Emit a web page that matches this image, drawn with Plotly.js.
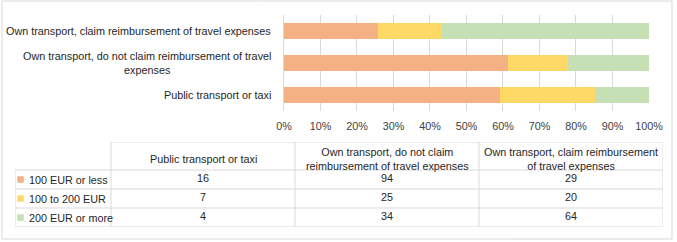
<!DOCTYPE html>
<html>
<head>
<meta charset="utf-8">
<script src="https://cdn.plot.ly/plotly-3.0.1.min.js"></script>
<style>
  html, body { margin: 0; padding: 0; background: #ffffff; }
  #chart { width: 677px; height: 242px; }
</style>
</head>
<body>
<div id="chart"></div>
<script>
// Travel arrangements and expense groups (counts of respondents)
const categories = [
  'Public transport or taxi',
  'Own transport, do not claim reimbursement of travel expenses',
  'Own transport, claim reimbursement of travel expenses'
];
// Axis labels for the bars (wrapped) and column headers for the data table
const barLabels = [
  'Public transport or taxi',
  'Own transport, do not claim reimbursement of travel<br>expenses',
  'Own transport, claim reimbursement of travel expenses'
];
const tableHeaders = [
  'Public transport or taxi',
  'Own transport, do not claim<br>reimbursement of travel expenses',
  'Own transport, claim reimbursement<br>of travel expenses'
];
const seriesNames = ['100 EUR or less', '100 to 200 EUR', '200 EUR or more'];
const upTo100 = [16, 94, 29];
const from100to200 = [7, 25, 20];
const over200 = [4, 34, 64];
const percentTicks = [0, 10, 20, 30, 40, 50, 60, 70, 80, 90, 100];

const seriesValues = [upTo100, from100to200, over200];
const seriesColors = ['#F4B183', '#FFD966', '#C5E0B4'];
const gridColor = '#d9d9d9';
const fontFamily = 'Liberation Sans, Arial, sans-serif';
const textFont = { family: fontFamily, size: 10.8, color: '#262626' };

// Table geometry in the table axes' units (1 unit = 1 px)
const colWidths = [96, 184, 184, 184];
const rowHeights = [28, 19, 19, 19];
const cumulate = arr => arr.reduce((acc, w) => acc.concat(acc[acc.length - 1] + w), [0]);
const colEdges = cumulate(colWidths);
const rowEdges = cumulate(rowHeights);
const colCenters = colWidths.map((w, j) => colEdges[j] + w / 2);
const rowCenters = rowHeights.map((h, i) => rowEdges[i] + h / 2);
const tableWidth = colEdges[colEdges.length - 1];
const tableHeight = rowEdges[rowEdges.length - 1];
const headerTextDrop = 2.5;   // header text sits slightly low in its cell

// Stacked bars, normalised to 100% per category
const bars = seriesValues.map((vals, i) => ({
  type: 'bar',
  orientation: 'h',
  name: seriesNames[i],
  y: categories,
  x: vals,
  marker: { color: seriesColors[i], line: { width: 0 } },
  hoverinfo: 'skip',
  xaxis: 'x',
  yaxis: 'y'
}));

// Data table: counts per series (rows) and category (columns)
const cellX = [], cellY = [], cellText = [];
seriesValues.forEach((vals, i) => {
  vals.forEach((v, j) => {
    cellX.push(colCenters[j + 1]);
    cellY.push(rowCenters[i + 1]);
    cellText.push(String(v));
  });
});
const cellTextTrace = {
  type: 'scatter', mode: 'text',
  x: cellX, y: cellY, text: cellText,
  textposition: 'middle center',
  textfont: textFont,
  hoverinfo: 'skip',
  cliponaxis: false,
  xaxis: 'x2', yaxis: 'y2'
};

// Legend keys in the row labels
const legendKeys = {
  type: 'scatter', mode: 'markers',
  x: seriesNames.map(() => 5.5),
  y: rowCenters.slice(1),
  marker: { symbol: 'square', size: 6.5, color: seriesColors, line: { width: 0 } },
  hoverinfo: 'skip',
  cliponaxis: false,
  xaxis: 'x2', yaxis: 'y2'
};

// Data table: column headers, centred line by line
const headerAnnotations = tableHeaders.map((h, j) => ({
  xref: 'x2', yref: 'y2',
  x: colCenters[j + 1], y: rowCenters[0] + headerTextDrop,
  xanchor: 'center', yanchor: 'middle',
  align: 'center',
  text: h, showarrow: false,
  font: textFont
}));

const rowLabelAnnotations = seriesNames.map((n, i) => ({
  xref: 'x2', yref: 'y2',
  x: 11.5, y: rowCenters[i + 1],
  xanchor: 'left', yanchor: 'middle',
  text: n, showarrow: false,
  font: textFont
}));

// Category labels beside the bars, centred when wrapped
const labelAnnotations = categories.map((c, i) => ({
  xref: 'paper', yref: 'y',
  x: 0.398, y: c,
  xanchor: 'right', yanchor: 'middle',
  align: 'center',
  text: barLabels[i],
  showarrow: false,
  font: textFont
}));

// Table rules
const rule = (x0, y0, x1, y1) => ({
  type: 'line', xref: 'x2', yref: 'y2', x0, y0, x1, y1,
  line: { color: gridColor, width: 1 }
});
const tableRules = [rule(colEdges[1], 0, tableWidth, 0)];
rowEdges.slice(1).forEach(y => tableRules.push(rule(0, y, tableWidth, y)));
tableRules.push(rule(0, rowEdges[1], 0, tableHeight));
colEdges.slice(1).forEach(x => tableRules.push(rule(x, 0, x, tableHeight)));

// Chart frame
const frame = {
  type: 'rect', xref: 'paper', yref: 'paper',
  x0: -0.0201, x1: 1.0139, y0: -0.0566, y1: 1.066,
  line: { color: gridColor, width: 1 },
  fillcolor: 'rgba(0,0,0,0)'
};

const layout = {
  width: 677,
  height: 242,
  margin: { l: 15, r: 14, t: 15, b: 15 },
  paper_bgcolor: '#ffffff',
  plot_bgcolor: '#ffffff',
  barmode: 'stack',
  barnorm: 'percent',
  bargap: 0.5,
  showlegend: false,
  xaxis: {
    domain: [0.4151, 0.9784],
    anchor: 'y',
    range: [0, 100],
    tickvals: percentTicks,
    ticktext: percentTicks.map(t => t + '%'),
    showgrid: true,
    gridcolor: gridColor,
    gridwidth: 1,
    zeroline: true,
    zerolinecolor: gridColor,
    zerolinewidth: 1,
    showline: false,
    ticks: 'outside',
    ticklen: 5,
    tickcolor: 'rgba(0,0,0,0)',
    tickfont: { family: fontFamily, size: 10.8, color: '#404040' },
    fixedrange: true
  },
  yaxis: {
    domain: [0.5472, 1],
    anchor: 'x',
    type: 'category',
    categoryorder: 'array',
    categoryarray: categories,
    showticklabels: false,
    showgrid: false,
    zeroline: false,
    showline: false,
    fixedrange: true
  },
  xaxis2: {
    domain: [0, 1],
    anchor: 'y2',
    range: [0, tableWidth],
    visible: false,
    fixedrange: true
  },
  yaxis2: {
    domain: [0, tableHeight / 212],
    anchor: 'x2',
    range: [tableHeight, 0],
    visible: false,
    fixedrange: true
  },
  annotations: labelAnnotations.concat(headerAnnotations, rowLabelAnnotations),
  shapes: tableRules.concat([frame])
};

Plotly.newPlot('chart', bars.concat([cellTextTrace, legendKeys]), layout,
  { displayModeBar: false, staticPlot: true });
</script>
</body>
</html>
